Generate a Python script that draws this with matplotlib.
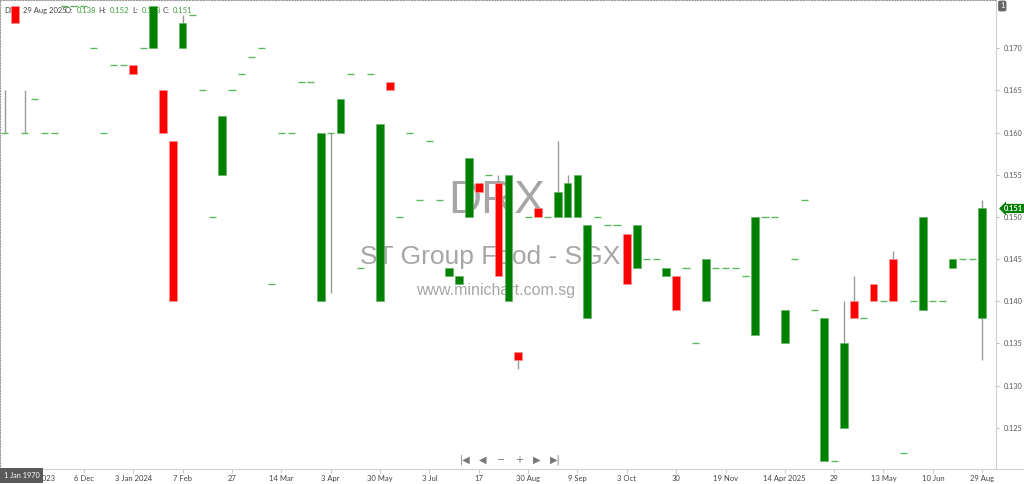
import matplotlib
matplotlib.use('Agg')
import matplotlib.pyplot as plt
import matplotlib.transforms as mtransforms
from matplotlib.lines import Line2D
import numpy as np

# Dados semanais (O, H, L, C)
abertura = [0.160, 0.175, 0.160, 0.164, 0.160, 0.160, 0.175, 0.175, 0.175, 0.170,
            0.160, 0.168, 0.168, 0.168, 0.170, 0.170, 0.165, 0.159, 0.170, 0.174,
            0.165, 0.150, 0.155, 0.165, 0.167, 0.169, 0.170, 0.142, 0.160, 0.160,
            0.166, 0.166, 0.140, 0.160, 0.160, 0.167, 0.144, 0.167, 0.140, 0.166,
            0.150, 0.160, 0.152, 0.159, 0.152, 0.143, 0.142, 0.150, 0.154, 0.155,
            0.154, 0.140, 0.134, 0.150, 0.151, 0.150, 0.150, 0.150, 0.150, 0.138,
            0.150, 0.149, 0.149, 0.148, 0.144, 0.145, 0.145, 0.143, 0.143, 0.144,
            0.135, 0.140, 0.144, 0.144, 0.144, 0.143, 0.136, 0.150, 0.150, 0.135,
            0.145, 0.152, 0.139, 0.121, 0.121, 0.125, 0.140, 0.138, 0.142, 0.140,
            0.145, 0.122, 0.140, 0.139, 0.140, 0.140, 0.144, 0.145, 0.145, 0.138]
maxima = [0.165, 0.175, 0.165, 0.164, 0.160, 0.160, 0.175, 0.175, 0.175, 0.170,
          0.160, 0.168, 0.168, 0.168, 0.170, 0.175, 0.165, 0.159, 0.174, 0.174,
          0.165, 0.150, 0.162, 0.165, 0.167, 0.169, 0.170, 0.142, 0.160, 0.160,
          0.166, 0.166, 0.160, 0.160, 0.164, 0.167, 0.144, 0.167, 0.161, 0.166,
          0.150, 0.160, 0.152, 0.159, 0.152, 0.144, 0.143, 0.157, 0.154, 0.155,
          0.155, 0.155, 0.134, 0.150, 0.151, 0.150, 0.159, 0.155, 0.155, 0.149,
          0.150, 0.149, 0.149, 0.148, 0.149, 0.145, 0.145, 0.144, 0.143, 0.144,
          0.135, 0.145, 0.144, 0.144, 0.144, 0.143, 0.150, 0.150, 0.150, 0.139,
          0.145, 0.152, 0.139, 0.138, 0.121, 0.140, 0.143, 0.138, 0.142, 0.140,
          0.146, 0.122, 0.140, 0.150, 0.140, 0.140, 0.145, 0.145, 0.145, 0.152]
minimas = [0.160, 0.173, 0.160, 0.164, 0.160, 0.160, 0.175, 0.175, 0.175, 0.170,
           0.160, 0.168, 0.168, 0.167, 0.170, 0.170, 0.160, 0.140, 0.170, 0.174,
           0.165, 0.150, 0.155, 0.165, 0.167, 0.169, 0.170, 0.142, 0.160, 0.160,
           0.166, 0.166, 0.140, 0.141, 0.160, 0.167, 0.144, 0.167, 0.140, 0.165,
           0.150, 0.160, 0.152, 0.159, 0.152, 0.143, 0.142, 0.150, 0.153, 0.155,
           0.143, 0.140, 0.132, 0.150, 0.150, 0.150, 0.150, 0.150, 0.150, 0.138,
           0.150, 0.149, 0.149, 0.142, 0.144, 0.145, 0.145, 0.143, 0.139, 0.144,
           0.135, 0.140, 0.144, 0.144, 0.144, 0.143, 0.136, 0.150, 0.150, 0.135,
           0.145, 0.152, 0.139, 0.121, 0.121, 0.125, 0.138, 0.138, 0.140, 0.140,
           0.140, 0.122, 0.140, 0.139, 0.140, 0.140, 0.144, 0.145, 0.145, 0.133]
fechamento = [0.160, 0.173, 0.160, 0.164, 0.160, 0.160, 0.175, 0.175, 0.175, 0.170,
              0.160, 0.168, 0.168, 0.167, 0.170, 0.175, 0.160, 0.140, 0.173, 0.174,
              0.165, 0.150, 0.162, 0.165, 0.167, 0.169, 0.170, 0.142, 0.160, 0.160,
              0.166, 0.166, 0.160, 0.160, 0.164, 0.167, 0.144, 0.167, 0.161, 0.165,
              0.150, 0.160, 0.152, 0.159, 0.152, 0.144, 0.143, 0.157, 0.153, 0.155,
              0.143, 0.155, 0.133, 0.150, 0.150, 0.150, 0.153, 0.154, 0.155, 0.149,
              0.150, 0.149, 0.149, 0.142, 0.149, 0.145, 0.145, 0.144, 0.139, 0.144,
              0.135, 0.145, 0.144, 0.144, 0.144, 0.143, 0.150, 0.150, 0.150, 0.139,
              0.145, 0.152, 0.139, 0.138, 0.121, 0.135, 0.138, 0.138, 0.140, 0.140,
              0.140, 0.122, 0.140, 0.150, 0.140, 0.140, 0.145, 0.145, 0.145, 0.151]

# Rotulos do eixo x (posicao = indice da vela)
posicoes_x = [3, 8, 13, 18, 23, 28, 33, 38, 43, 48, 53, 58, 63, 68, 73, 79, 84, 89, 94, 99]
rotulos_x = ['8 Nov 2023', '6 Dec', '3 Jan 2024', '7 Feb', '27', '14 Mar', '3 Apr', '30 May',
             '3 Jul', '17', '30 Aug', '9 Sep', '3 Oct', '30', '19 Nov', '14 Apr 2025', '29',
             '13 May', '10 Jun', '29 Aug']
ticks_y = [0.125, 0.130, 0.135, 0.140, 0.145, 0.150, 0.155, 0.160, 0.165, 0.170]

verde = '#008000'
vermelho = '#ff0000'
traco = '#5cb85c'
pavio = '#9a9a9a'
fonte = 'Lato'

W, H = 1024, 484
fig = plt.figure(figsize=(W / 100, H / 100), dpi=100)
ax = fig.add_axes([0, 1 - 469 / H, 996 / W, 469 / H])

o = np.array(abertura)
h = np.array(maxima)
l = np.array(minimas)
c = np.array(fechamento)
x = np.arange(len(o))

# Pavios
tem_pavio = (h > np.maximum(o, c)) | (l < np.minimum(o, c))
ax.vlines(x[tem_pavio], l[tem_pavio], h[tem_pavio], color=pavio, lw=1, zorder=2)

# Velas sem variacao (tracos)
planas = o == c
ax.hlines(o[planas], x[planas] - 0.36, x[planas] + 0.36, color=traco, lw=1, zorder=3)

# Corpos
alta = (c > o)
baixa = (c < o)
ax.bar(x[alta], (c - o)[alta], bottom=o[alta], width=0.78, color=verde,
       edgecolor='#66b366', linewidth=0.5, zorder=3)
ax.bar(x[baixa], (o - c)[baixa], bottom=c[baixa], width=0.78, color=vermelho,
       edgecolor='#ff9090', linewidth=0.5, zorder=3)

ax.set_xlim(-0.5, 100.4)
ax.set_ylim(0.1201, 0.17573)

# Eixos
ax.yaxis.tick_right()
ax.set_yticks(ticks_y)
ax.set_yticklabels(['%.3f' % v for v in ticks_y], fontsize=5.3, color='#555555', family=fonte)
ax.tick_params(axis='y', length=2.5, width=0.8, color='#bbbbbb', pad=3)
ax.set_xticks(posicoes_x)
ax.set_xticklabels(rotulos_x, fontsize=5.5, color='#444444', family=fonte)
ax.tick_params(axis='x', length=3, width=0.8, color='#cccccc', pad=1.5)

for lado in ['top', 'left']:
    ax.spines[lado].set_linestyle((0, (1, 1.5)))
    ax.spines[lado].set_color('#999999')
    ax.spines[lado].set_linewidth(0.8)
ax.spines['right'].set_color('#d0d0d0')
ax.spines['bottom'].set_color('#d0d0d0')
fig.add_artist(Line2D([996 / W, 1], [1 - 469 / H] * 2, color='#d0d0d0', lw=0.8))


def px(xp, yp):
    return xp / W, 1 - yp / H


# Marca d'agua
ax.text(*px(497, 201), 'DRX', transform=fig.transFigure, fontsize=33, color='#a6a6a6',
        family='Liberation Sans', ha='center', va='center', zorder=1)
ax.text(*px(490, 257), 'ST Group Food - SGX', transform=fig.transFigure, fontsize=19,
        color='#a6a6a6', family='Liberation Sans', ha='center', va='center', zorder=1)
ax.text(*px(496, 290), 'www.minichart.com.sg', transform=fig.transFigure, fontsize=11.5,
        color='#a6a6a6', family='Liberation Sans', ha='center', va='center', zorder=1)

# Cabecalho OHLC
cabecalho = [(4, 'DRX', '#444444'), (23, '29 Aug 2025', '#444444'),
             (65, 'O:', '#444444'), (77, '%.3f' % abertura[-1], '#3a9a3a'),
             (98, 'H:', '#444444'), (110, '%.3f' % maxima[-1], '#3a9a3a'),
             (132, 'L:', '#444444'), (142, '%.3f' % minimas[-1], '#3a9a3a'),
             (163, 'C:', '#444444'), (173, '%.3f' % fechamento[-1], '#3a9a3a')]
for xp, txt, cor in cabecalho:
    ax.text(*px(xp, 10.5), txt, transform=fig.transFigure, fontsize=5.5, color=cor,
            family=fonte, ha='left', va='center', zorder=2.5)

# Etiqueta do ultimo preco
trans = mtransforms.blended_transform_factory(fig.transFigure, ax.transData)
ax.text(1004 / W, fechamento[-1], '%.3f' % fechamento[-1], transform=trans, fontsize=5.3,
        color='white', fontweight='bold', family=fonte, ha='left', va='center',
        bbox=dict(boxstyle='larrow,pad=0.15', fc=verde, ec='none'), clip_on=False, zorder=5)

# Caixas cinzas
fig.text(*px(1000, 6), '1', fontsize=5.5, color='white', family=fonte, ha='left', va='center',
         bbox=dict(boxstyle='round,pad=0.25', fc='#666666', ec='none'))
caixa = plt.Rectangle(px(0, 483), 43 / W, 15 / H, transform=fig.transFigure,
                      fc='#5a5a5a', ec='none', zorder=10)
fig.add_artist(caixa)
fig.text(*px(21.5, 475.5), '1 Jan 1970', fontsize=5.3, color='white', family=fonte,
         ha='center', va='center', zorder=11)

# Botoes de navegacao
for xp, s in [(465, '|◀'), (483, '◀'), (501, '−'), (519, '+'), (537, '▶'), (555, '▶|')]:
    fig.text(*px(xp, 460), s, fontsize=7, color='#777777', ha='center', va='center',
             family='DejaVu Sans')

plt.savefig('out.png', dpi=100)
